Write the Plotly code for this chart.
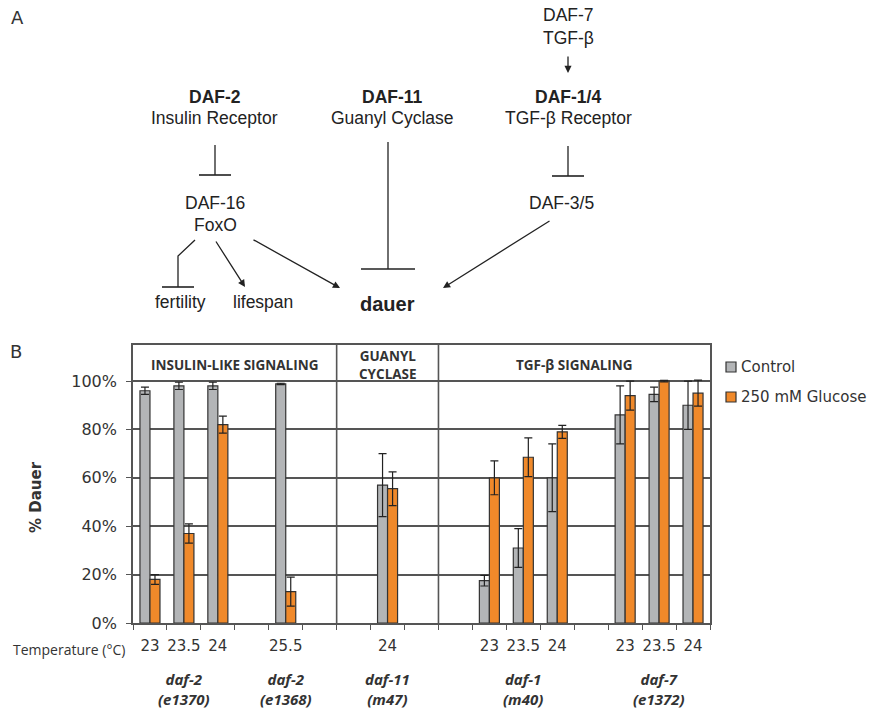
import plotly.graph_objects as go

# ---------------- data ----------------
categories = ["e1370_23", "e1370_23.5", "e1370_24", "gap1", "e1368_25.5", "gap2",
              "gap3", "m47_24", "gap4",
              "gap5", "m40_23", "m40_23.5", "m40_24", "gap6", "e1372_23", "e1372_23.5", "e1372_24"]
temperatures = ["23", "23.5", "24", "", "25.5", "",
                "", "24", "",
                "", "23", "23.5", "24", "", "23", "23.5", "24"]
control = [96, 98, 98, None, 98.8, None, None, 57, None, None, 17.5, 31, 60, None, 86, 94.5, 90]
control_err = [1.5, 1.5, 1.5, None, 0.3, None, None, 13, None, None, 2.2, 8, 14, None, 12, 3, 10]
glucose = [18, 37, 82, None, 13, None, None, 55.5, None, None, 60, 68.5, 79, None, 94, 100, 95]
glucose_err = [2, 4, 3.5, None, 6, None, None, 7, None, None, 7, 8, 2.7, None, 6, 0.3, 5.4]
series_names = ["Control", "250 mM Glucose"]
strains = [("<i><b>daf-2</b></i><br><i><b>(e1370)</b></i>", ["e1370_23", "e1370_23.5", "e1370_24"]),
           ("<i><b>daf-2</b></i><br><i><b>(e1368)</b></i>", ["e1368_25.5"]),
           ("<i><b>daf-11</b></i><br><i><b>(m47)</b></i>", ["m47_24"]),
           ("<i><b>daf-1</b></i><br><i><b>(m40)</b></i>", ["m40_23", "m40_23.5", "m40_24"]),
           ("<i><b>daf-7</b></i><br><i><b>(e1372)</b></i>", ["e1372_23", "e1372_23.5", "e1372_24"])]
sections = [("INSULIN-LIKE SIGNALING", 0, 5), ("GUANYL<br>CYCLASE", 6, 8), ("TGF-β SIGNALING", 9, 16)]
y_ticks = [0, 20, 40, 60, 80, 100]
y_ticktext = [f"{v}%" for v in y_ticks]

GRAY = "#b3b5b7"
ORANGE = "#f0892a"
EDGE = "#333333"
W, H = 869, 709


def px(x):
    return x / W


def py(y):
    return 1 - y / H


def label(x, y, text, font, **kw):
    d = dict(xref="paper", yref="paper", x=px(x), y=py(y), text=text, showarrow=False,
             xanchor="center", yanchor="middle", font=font)
    d.update(kw)
    return d


fig = go.Figure()
fig.add_trace(go.Bar(x=categories, y=control, name=series_names[0], marker_color=GRAY,
                     marker_line_color=EDGE, marker_line_width=1.2,
                     error_y=dict(type="data", array=control_err, color="#222", thickness=1.2, width=4)))
fig.add_trace(go.Bar(x=categories, y=glucose, name=series_names[1], marker_color=ORANGE,
                     marker_line_color=EDGE, marker_line_width=1.2,
                     error_y=dict(type="data", array=glucose_err, color="#222", thickness=1.2, width=4)))

shapes = []
annotations = []

# section dividers
for _, a, b in sections[:-1]:
    shapes.append(dict(type="line", xref="x", yref="y", x0=b + 0.5, x1=b + 0.5, y0=-1.5, y1=114.9,
                       line=dict(color="#555", width=1.6)))
# section titles
for name, a, b in sections:
    annotations.append(dict(xref="x", yref="y", x=(a + b) / 2, y=106.8, text=f"<b>{name}</b>",
                            showarrow=False, xanchor="center", yanchor="middle",
                            font=dict(family="Open Sans", size=13.5, color="#333"), align="center"))
# strain labels
for lab, cats in strains:
    idx = [categories.index(c) for c in cats]
    annotations.append(dict(xref="x", yref="paper", x=sum(idx) / len(idx), y=py(689), text=lab,
                            showarrow=False, xanchor="center", yanchor="middle",
                            font=dict(family="Open Sans", size=15, color="#333"), align="center"))
annotations.append(label(69, 649, "Temperature (°C)", dict(family="Open Sans", size=14, color="#333")))
annotations.append(label(36, 497, "<b>% Dauer</b>", dict(family="DejaVu Sans", size=15, color="#333"),
                         textangle=-90))
# legend (manual)
for i, (name, col) in enumerate(zip(series_names, [GRAY, ORANGE])):
    yc = 367 + 30 * i
    shapes.append(dict(type="rect", xref="paper", yref="paper", x0=px(726), x1=px(736),
                       y0=py(yc - 5), y1=py(yc + 5), fillcolor=col, line=dict(color=EDGE, width=1.2)))
    annotations.append(label(739, yc, name, dict(family="DejaVu Sans", size=15, color="#333"),
                             xanchor="left"))

# panel labels
annotations.append(label(17, 18, "A", dict(family="DejaVu Sans", size=18, color="#333")))
annotations.append(label(16, 351, "B", dict(family="DejaVu Sans", size=18, color="#333")))

# ---------------- panel A diagram ----------------
AF = "Liberation Sans"
TXT = "#222"
nodes = [
    ("DAF-7", 568, 15, False, 17.5), ("TGF-β", 568, 38, False, 17.5),
    ("DAF-2", 215, 97, True, 17.5), ("Insulin Receptor", 214, 118, False, 17.5),
    ("DAF-11", 392, 97, True, 17.5), ("Guanyl Cyclase", 392, 118, False, 17.5),
    ("DAF-1/4", 568, 97, True, 17.5), ("TGF-β Receptor", 568, 118, False, 17.5),
    ("DAF-16", 215, 203, False, 17.5), ("FoxO", 215, 225, False, 17.5),
    ("DAF-3/5", 561, 203, False, 17.5),
    ("fertility", 180, 302, False, 17.5), ("lifespan", 263, 302, False, 17.5),
    ("dauer", 387, 304, True, 20),
]
for t, x, y, bold, s in nodes:
    annotations.append(label(x, y, f"<b>{t}</b>" if bold else t, dict(family=AF, size=s, color=TXT)))

# inhibition lines (stem + bar)
inhib = [((215, 145), (215, 175), 16), ((388, 142), (388, 269), 27), ((568, 146), (568, 176), 16)]
for (x0, y0), (x1, y1), hw in inhib:
    shapes.append(dict(type="line", xref="paper", yref="paper", x0=px(x0), y0=py(y0), x1=px(x1), y1=py(y1),
                       line=dict(color=TXT, width=1.3)))
    shapes.append(dict(type="line", xref="paper", yref="paper", x0=px(x1 - hw), y0=py(y1), x1=px(x1 + hw),
                       y1=py(y1), line=dict(color=TXT, width=1.6)))
# fertility inhibition (bent)
shapes.append(dict(type="path", xref="paper", yref="paper",
                   path=f"M {px(195)} {py(240)} L {px(178)} {py(256)} L {px(178)} {py(287)}",
                   line=dict(color=TXT, width=1.3)))
shapes.append(dict(type="line", xref="paper", yref="paper", x0=px(162), y0=py(287), x1=px(194), y1=py(287),
                   line=dict(color=TXT, width=1.6)))
# arrows (tail -> head)
arrows = [((568, 55), (568, 73)), ((215, 240), (245, 287)), ((252, 239), (340, 288)), ((551, 220), (443, 288))]
for (tx, ty), (hx, hy) in arrows:
    annotations.append(dict(xref="paper", yref="paper", x=px(hx), y=py(hy), ax=tx - hx, ay=ty - hy,
                            text="", showarrow=True, arrowhead=2, arrowsize=1.1, arrowwidth=1.3,
                            arrowcolor=TXT, standoff=0))

fig.update_layout(
    width=W, height=H, margin=dict(l=0, r=0, t=0, b=0, autoexpand=False),
    paper_bgcolor="white", plot_bgcolor="white",
    barmode="group", bargap=0.41, bargroupgap=0, showlegend=False,
    shapes=shapes, annotations=annotations,
    xaxis=dict(domain=[px(133), px(710)], type="category", categoryorder="array", categoryarray=categories,
               tickvals=categories, ticktext=temperatures, tickson="boundaries", ticks="outside", ticklen=5,
               tickcolor="#555", showline=True, linecolor="#555", linewidth=1.6, mirror=True,
               showgrid=False, range=[-0.5, 16.5], ticklabelstandoff=8, tickangle=0, automargin=False,
               tickfont=dict(family="DejaVu Sans", size=15, color="#333")),
    yaxis=dict(domain=[py(623), py(345)], range=[0, 114.9], tickvals=y_ticks, ticktext=y_ticktext,
               ticks="outside", ticklen=5, tickcolor="#555", showline=True, linecolor="#555",
               linewidth=1.6, mirror=True, showgrid=True, gridcolor="#555", gridwidth=1.6,
               zeroline=False, ticklabelstandoff=6, automargin=False,
               tickfont=dict(family="DejaVu Sans", size=16, color="#333")),
)

fig.write_html("out.html")
